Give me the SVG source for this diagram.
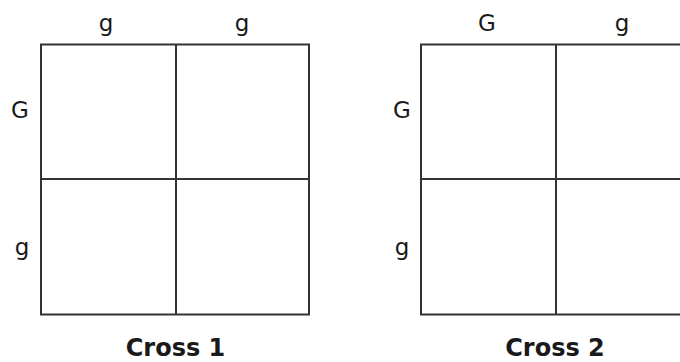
<svg xmlns="http://www.w3.org/2000/svg" width="680" height="362" viewBox="0 0 680 362">
<style>
.grid{fill:none;stroke:#333;stroke-width:2}
.lbl{font-family:"DejaVu Sans",Verdana,sans-serif;font-size:23px;fill:#1a1a1a;text-anchor:middle}
.ttl{font-family:"DejaVu Sans",Verdana,sans-serif;font-size:24px;font-weight:bold;fill:#1a1a1a;text-anchor:middle}
</style>
<rect width="680" height="362" fill="#fff"/>
<g id="cross1">
<rect class="grid" x="41" y="44.5" width="268" height="270"/>
<line class="grid" x1="176" y1="44.5" x2="176" y2="314.5"/>
<line class="grid" x1="41" y1="179" x2="309" y2="179"/>
<text class="lbl" x="106" y="31">g</text>
<text class="lbl" x="242" y="31">g</text>
<text class="lbl" x="20" y="118">G</text>
<text class="lbl" x="22" y="255">g</text>
<text class="ttl" x="175.5" y="356">Cross 1</text>
</g>
<g id="cross2">
<rect class="grid" x="421" y="44.5" width="270" height="270"/>
<line class="grid" x1="556" y1="44.5" x2="556" y2="314.5"/>
<line class="grid" x1="421" y1="179" x2="691" y2="179"/>
<text class="lbl" x="487" y="31">G</text>
<text class="lbl" x="622" y="31">g</text>
<text class="lbl" x="402" y="118">G</text>
<text class="lbl" x="402" y="255">g</text>
<text class="ttl" x="555" y="356">Cross 2</text>
</g>
</svg>
